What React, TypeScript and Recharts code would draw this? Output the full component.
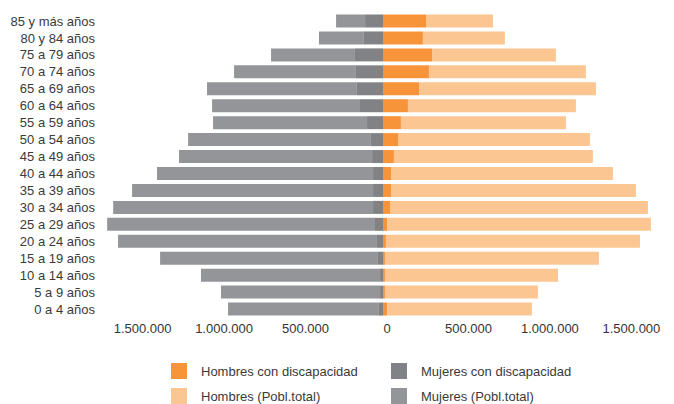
import React from 'react';
import { BarChart, Bar, XAxis, YAxis } from 'recharts';

// Grupos de edad, de arriba abajo
const GRUPOS = [
  '85 y más años', '80 y 84 años', '75 a 79 años', '70 a 74 años', '65 a 69 años',
  '60 a 64 años', '55 a 59 años', '50 a 54 años', '45 a 49 años', '40 a 44 años',
  '35 a 39 años', '30 a 34 años', '25 a 29 años', '20 a 24 años', '15 a 19 años',
  '10 a 14 años', '5 a 9 años', '0 a 4 años',
];

const MUJERES_TOTAL = [
  288000, 393000, 687000, 914000, 1080000, 1049000, 1043000, 1196000, 1252000,
  1387000, 1540000, 1656000, 1693000, 1626000, 1368000, 1117000, 994000, 951000,
];
const MUJERES_DISC = [
  110000, 117000, 172000, 166000, 160000, 141000, 98000, 74000, 67000,
  61000, 61000, 61000, 49000, 37000, 31000, 18000, 18000, 25000,
];
const HOMBRES_TOTAL = [
  675000, 748000, 1061000, 1245000, 1307000, 1184000, 1123000, 1270000, 1288000,
  1411000, 1552000, 1626000, 1644000, 1577000, 1325000, 1074000, 951000, 914000,
];
const HOMBRES_DISC = [
  264000, 245000, 301000, 282000, 221000, 153000, 110000, 92000, 67000,
  49000, 49000, 43000, 25000, 18000, 12000, 12000, 12000, 25000,
];

const TICKS = [-1500000, -1000000, -500000, 0, 500000, 1000000, 1500000];

const C_HOMBRES_DISC = '#F7943A';
const C_HOMBRES = '#FCC693';
const C_MUJERES_DISC = '#808285';
const C_MUJERES = '#939598';

// mujeres a la izquierda (negativo); la parte clara es el resto de la población
const data = GRUPOS.map((grupo, i) => ({
  grupo,
  mujeresDisc: -MUJERES_DISC[i],
  mujeresResto: -(MUJERES_TOTAL[i] - MUJERES_DISC[i]),
  hombresDisc: HOMBRES_DISC[i],
  hombresResto: HOMBRES_TOTAL[i] - HOMBRES_DISC[i],
}));

const LEYENDA = [
  { label: 'Hombres con discapacidad', color: C_HOMBRES_DISC, left: 163, top: 355 },
  { label: 'Hombres (Pobl.total)', color: C_HOMBRES, left: 163, top: 380 },
  { label: 'Mujeres con discapacidad', color: C_MUJERES_DISC, left: 383, top: 355 },
  { label: 'Mujeres (Pobl.total)', color: C_MUJERES, left: 383, top: 380 },
];

const formatMiles = (v: number) =>
  String(Math.abs(v)).replace(/\B(?=(\d{3})+(?!\d))/g, '.');

export default function App() {
  return (
    <div style={{ position: 'relative', width: 658, height: 396, fontFamily: '"Liberation Sans", Arial, sans-serif' }}>
      <BarChart
        width={658}
        height={340}
        data={data}
        layout="vertical"
        stackOffset="sign"
        margin={{ top: 4.5, right: 6, bottom: 4.5, left: 0 }}
      >
        <XAxis
          type="number"
          domain={[-1700000, 1700000]}
          ticks={TICKS}
          tickFormatter={formatMiles}
          axisLine={false}
          tickLine={false}
          tickSize={0}
          tickMargin={6}
          height={26}
          tick={{ fontSize: 13, fill: '#333333', dx: 4 }}
        />
        <YAxis
          type="category"
          dataKey="grupo"
          width={98}
          axisLine={false}
          tickLine={false}
          tickSize={0}
          tickMargin={11}
          interval={0}
          tick={{ fontSize: 13, fill: '#3a3a3a' }}
        />
        <Bar dataKey="mujeresDisc" stackId="p" fill={C_MUJERES_DISC} barSize={13} isAnimationActive={false} />
        <Bar dataKey="mujeresResto" stackId="p" fill={C_MUJERES} barSize={13} isAnimationActive={false} />
        <Bar dataKey="hombresDisc" stackId="p" fill={C_HOMBRES_DISC} barSize={13} isAnimationActive={false} />
        <Bar dataKey="hombresResto" stackId="p" fill={C_HOMBRES} barSize={13} isAnimationActive={false} />
      </BarChart>
      {LEYENDA.map((item) => (
        <div
          key={item.label}
          style={{ position: 'absolute', left: item.left, top: item.top, display: 'flex', alignItems: 'center' }}
        >
          <span style={{ width: 16, height: 16, background: item.color, display: 'inline-block' }} />
          <span style={{ marginLeft: 14, fontSize: 13, color: '#3a3a3a' }}>{item.label}</span>
        </div>
      ))}
    </div>
  );
}
